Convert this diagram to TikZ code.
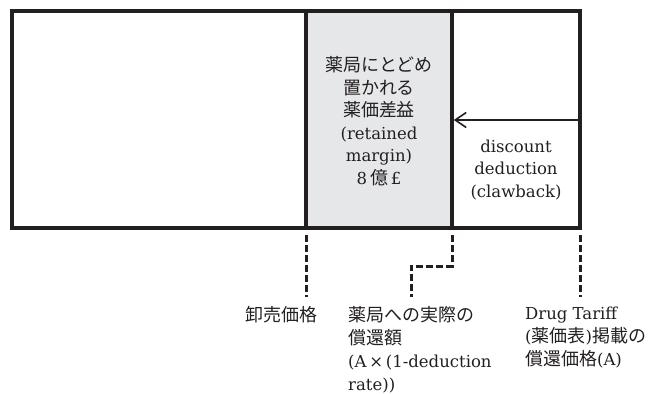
\documentclass[tikz,border=0pt]{standalone}
\usepackage{fontspec}
\setmainfont{DejaVu Serif}
\newfontfamily\jpfam[Scale=1.09]{Noto Sans CJK JP}
\newcommand\J[1]{{\jpfam #1}}
\usetikzlibrary{arrows.meta}
\definecolor{ink}{HTML}{231F20}
\definecolor{cellgray}{HTML}{E6E7E8}
\begin{document}
\begin{tikzpicture}[x=1pt,y=-1pt,
  cell/.style={draw=ink,line width=3.6pt,outer sep=0pt,inner sep=0pt,anchor=north west},
  lbl/.style={inner sep=0pt,text=ink,font=\fontsize{16.5}{22.5}\selectfont,align=center},
  blbl/.style={inner sep=0pt,text=ink,font=\fontsize{16.5}{23}\selectfont,align=left,anchor=north west},
  guide/.style={draw=ink,line width=3pt,dash pattern=on 7pt off 3pt},
  pointer/.style={draw=ink,line width=1.6pt,-{Straight Barb[length=11pt,width=15pt]}}]
\useasboundingbox (0,0) rectangle (657,394);
\node[cell,minimum width=294pt,minimum height=217pt] (whole) at (12,11) {};
\node[cell,fill=cellgray,minimum width=146pt,minimum height=217pt] (margin) at (306,11) {};
\node[cell,minimum width=128pt,minimum height=217pt] (tariff) at (452,11) {};
\coordinate (arrowstart) at (580,120);
\draw[pointer] (arrowstart) -- ([xshift=1.8pt]margin.east |- arrowstart);
\node[lbl] (retained) at (379,121) {\J{薬局にとどめ}\\\J{置かれる}\\\J{薬価差益}\\(retained\\margin)\\8\hspace{3pt}\J{億}\hspace{3pt}£};
\node[lbl] (clawback) at (516,170) {discount\\deduction\\(clawback)};
\node[blbl] (wholesale) at (245,306) {\J{卸売価格}};
\node[blbl] (actual) at (348,306) {\J{薬局への実際の}\\\J{償還額}\\(A\,×\,(1-deduction\\rate))};
\node[blbl] (dtprice) at (525,307) {Drug Tariff\\(\J{薬価表})\J{掲載の}\\\J{償還価格}(A)};
\coordinate (g1) at (306,297);
\coordinate (bend) at (411,266);
\coordinate (g2) at (411,297);
\coordinate (g3) at (580,297);
\draw[guide] ([yshift=-7pt]margin.south west) -- (g1);
\draw[guide] ([yshift=-7pt]margin.south east) |- (bend) -- (g2);
\draw[guide] ([yshift=-7pt]tariff.south east) -- (g3);
\end{tikzpicture}
\end{document}
